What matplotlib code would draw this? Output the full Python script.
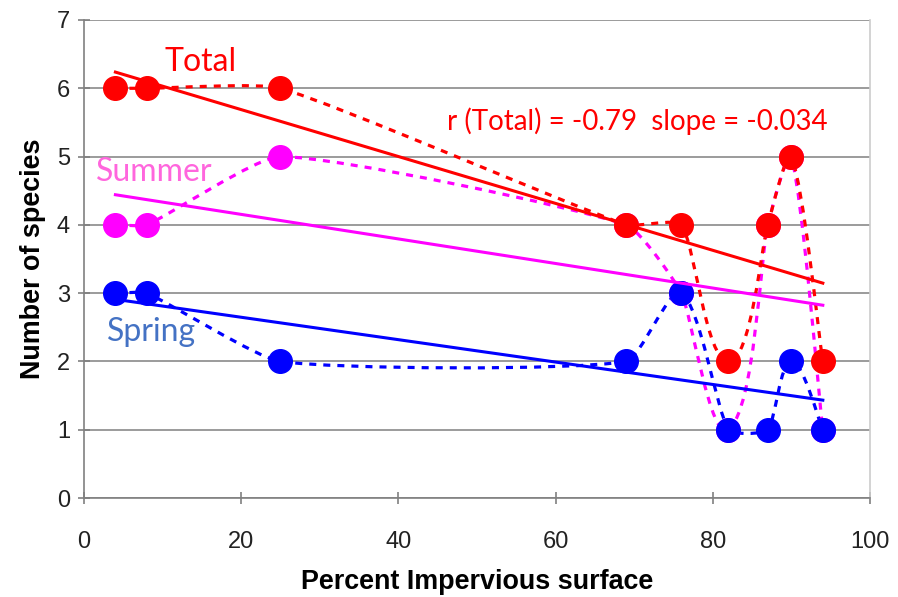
'''
Species count vs impervious surface
'''
import numpy as np
import matplotlib.pyplot as plt
from matplotlib.path import Path
from matplotlib.patches import PathPatch

impervious = [4, 8, 25, 69, 76, 82, 87, 90, 94]
total = [6, 6, 6, 4, 4, 2, 4, 5, 2]
summer = [4, 4, 5, 4, 3, 1, 4, 5, 1]
spring = [3, 3, 2, 2, 3, 1, 1, 2, 1]
yticks = [0, 1, 2, 3, 4, 5, 6, 7]
xticks = [0, 20, 40, 60, 80, 100]

# plot area size in pixels, used so the smoothing works in screen space
PW, PH = 786.0, 478.0


def smooth_path(x, y, t=0.16):
    # excel style smoothed line: bezier, tangent from neighbours,
    # handle length tied to the segment length
    sc = np.array([PW / 100.0, PH / 7.0])
    pts = np.column_stack([x, y]).astype(float) * sc
    ext = np.vstack([pts[0], pts, pts[-1]])
    verts = [pts[0]]
    codes = [Path.MOVETO]
    for i in range(len(pts) - 1):
        p0, p1, p2, p3 = ext[i], ext[i + 1], ext[i + 2], ext[i + 3]
        seg = np.linalg.norm(p2 - p1)
        d1 = p2 - p0
        d2 = p3 - p1
        d1 = d1 / np.linalg.norm(d1)
        d2 = d2 / np.linalg.norm(d2)
        verts += [p1 + d1 * seg * t, p2 - d2 * seg * t, p2]
        codes += [Path.CURVE4] * 3
    return Path(np.array(verts) / sc, codes)


fig = plt.figure(figsize=(8.98, 5.97), dpi=100)
ax = fig.add_axes([0.0935, 0.1658, 0.8753, 0.8007])

series = [(summer, '#ff00ff'), (total, '#ff0000'), (spring, '#0000ff')]
for vals, col in series:
    ax.add_patch(PathPatch(smooth_path(impervious, vals), fill=False, edgecolor=col,
                           linewidth=2.3, linestyle=(0, (2.2, 2.2)), zorder=2))
    ax.plot(impervious, vals, 'o', color=col, markersize=17, zorder=3)

# linear trend lines
for vals, col in series:
    m, b = np.polyfit(impervious, vals, 1)
    xs = np.array([impervious[0], impervious[-1]])
    ax.plot(xs, m * xs + b, color=col, linewidth=2.2, zorder=4)

ax.set_xlim(0, 100)
ax.set_ylim(0, 7)
ax.set_xticks(xticks)
ax.set_yticks(yticks)
ax.yaxis.grid(True, color='#8a8a8a', linewidth=1.2, zorder=0)
ax.set_axisbelow(True)
ax.spines['top'].set_visible(False)
ax.spines['right'].set_color('#cccccc')
ax.spines['right'].set_linewidth(1.2)
ax.spines['left'].set_color('#808080')
ax.spines['bottom'].set_color('#808080')
ax.spines['left'].set_linewidth(1.2)
ax.spines['bottom'].set_linewidth(1.2)
ax.tick_params(direction='inout', length=8, width=1.2, color='#808080',
               labelsize=17)
ax.tick_params(axis='x', pad=20)
ax.tick_params(axis='y', pad=6)
for lbl in ax.get_xticklabels() + ax.get_yticklabels():
    lbl.set_family('Liberation Sans')
    lbl.set_color('#222222')

ax.set_xlabel('Percent Impervious surface', fontsize=19.4, fontweight='bold',
              family='Liberation Sans', labelpad=11)
ax.set_ylabel('Number of species', fontsize=19.4, fontweight='bold',
              family='Liberation Sans', labelpad=8)

ax.text(14.8, 6.38, 'Total', color='#ff0000', fontsize=23, family='Lato',
        ha='center', va='center')
ax.text(9.0, 4.77, 'Summer', color='#ff66dd', fontsize=23, family='Lato',
        ha='center', va='center')
ax.text(8.65, 2.43, 'Spring', color='#4472c4', fontsize=23, family='Lato',
        ha='center', va='center')
ax.text(94.6, 5.52, 'r (Total) = -0.79  slope = -0.034', color='#ff0000', fontsize=20,
        family='Lato', ha='right', va='center')

fig.savefig('out.png', dpi=100)
